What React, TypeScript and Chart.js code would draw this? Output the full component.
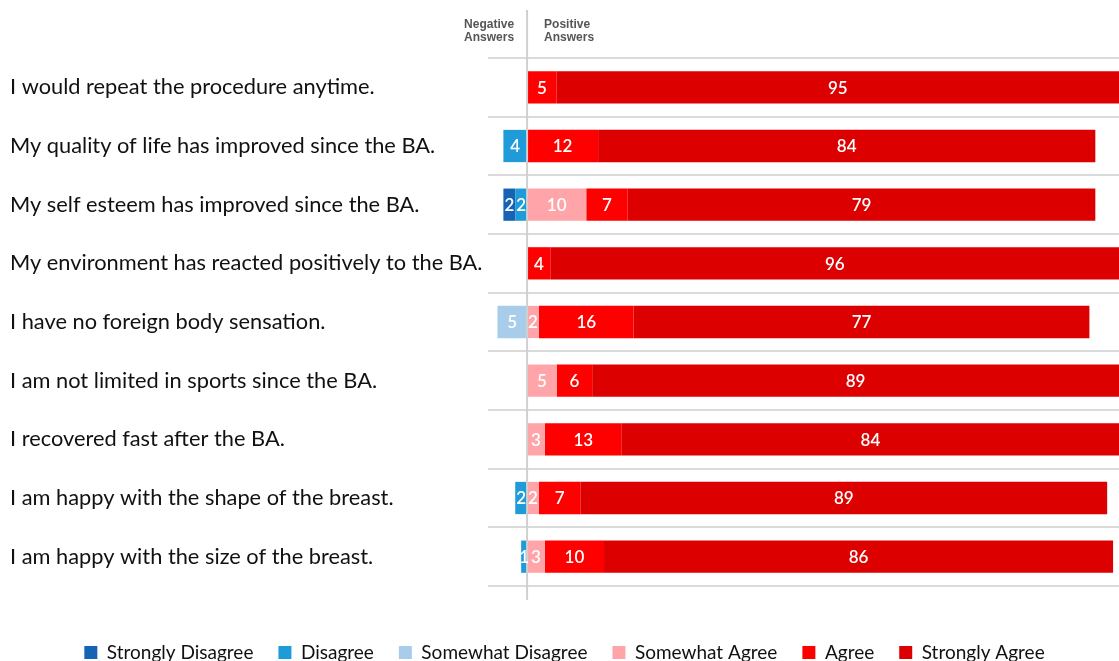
import React, { useEffect, useRef } from 'react';
import { Chart, registerables } from 'chart.js';

Chart.register(...registerables);

const statements = [
  'I would repeat the procedure anytime.',
  'My quality of life has improved since the BA.',
  'My self esteem has improved since the BA.',
  'My environment has reacted positively to the BA.',
  'I have no foreign body sensation.',
  'I am not limited in sports since the BA.',
  'I recovered fast after the BA.',
  'I am happy with the shape of the breast.',
  'I am happy with the size of the breast.',
];

const stronglyDisagree = [0, 0, 2, 0, 0, 0, 0, 0, 0];
const disagree = [0, 4, 2, 0, 0, 0, 0, 2, 1];
const somewhatDisagree = [0, 0, 0, 0, 5, 0, 0, 0, 0];
const somewhatAgree = [0, 0, 10, 0, 2, 5, 3, 2, 3];
const agree = [5, 12, 7, 4, 16, 6, 13, 7, 10];
const stronglyAgree = [95, 84, 79, 96, 77, 89, 84, 89, 86];

const seriesNames = ['Strongly Disagree', 'Disagree', 'Somewhat Disagree', 'Somewhat Agree', 'Agree', 'Strongly Agree'];
const seriesColors = ['#1663B5', '#1E9BD8', '#A8CDEB', '#FFA5A9', '#FF0000', '#DC0000'];
const headerNegative = ['Negative', 'Answers'];
const headerPositive = ['Positive', 'Answers'];
const axisMin = -6.6;
const axisMax = 100;

const LABEL_FONT = 'Lato';

export default function App() {
  const canvasRef = useRef<HTMLCanvasElement | null>(null);

  useEffect(() => {
    const canvas = canvasRef.current;
    if (!canvas) return;

    const neg = (arr: number[]) => arr.map((v) => -v);
    // negative stacks: nearest to zero first
    const datasets = [
      { label: seriesNames[2], data: neg(somewhatDisagree), backgroundColor: seriesColors[2], rank: 2 },
      { label: seriesNames[1], data: neg(disagree), backgroundColor: seriesColors[1], rank: 1 },
      { label: seriesNames[0], data: neg(stronglyDisagree), backgroundColor: seriesColors[0], rank: 0 },
      { label: seriesNames[3], data: somewhatAgree, backgroundColor: seriesColors[3], rank: 3 },
      { label: seriesNames[4], data: agree, backgroundColor: seriesColors[4], rank: 4 },
      { label: seriesNames[5], data: stronglyAgree, backgroundColor: seriesColors[5], rank: 5 },
    ];
    const ranks = datasets.map((d) => d.rank);

    const legendShift = {
      id: 'legendShift',
      afterLayout(chart: any) {
        const lg = chart.legend;
        if (lg) {
          lg.top += 32;
          lg.bottom += 32;
        }
      },
    };

    const overlay = {
      id: 'overlay',
      afterDatasetsDraw(chart: any) {
        const ctx = chart.ctx;
        const x0 = chart.scales.x.getPixelForValue(0);
        // zero line
        ctx.save();
        ctx.strokeStyle = '#d0d0d0';
        ctx.lineWidth = 2;
        ctx.beginPath();
        ctx.moveTo(x0, 10);
        ctx.lineTo(x0, 600);
        ctx.stroke();
        // header
        ctx.fillStyle = '#555555';
        ctx.font = 'bold 12px "Liberation Sans", Arial, sans-serif';
        ctx.textBaseline = 'middle';
        ctx.textAlign = 'right';
        headerNegative.forEach((t, i) => ctx.fillText(t, x0 - 13, 25 + i * 12.5));
        ctx.textAlign = 'left';
        headerPositive.forEach((t, i) => ctx.fillText(t, x0 + 17, 25 + i * 12.5));
        // value labels
        ctx.fillStyle = '#ffffff';
        ctx.font = `600 17px ${LABEL_FONT}, sans-serif`;
        ctx.textAlign = 'center';
        ctx.textBaseline = 'middle';
        chart.data.datasets.forEach((ds: any, di: number) => {
          const meta = chart.getDatasetMeta(di);
          meta.data.forEach((el: any, i: number) => {
            const v = ds.data[i];
            if (!v) return;
            const c = el.getCenterPoint();
            ctx.fillText(String(Math.abs(v)), c.x, c.y + 1);
          });
        });
        ctx.restore();
      },
    };

    const chart = new Chart(canvas, {
      type: 'bar',
      data: {
        labels: statements,
        datasets: datasets.map((d) => ({
          label: d.label,
          data: d.data,
          backgroundColor: d.backgroundColor,
          borderWidth: 0,
          barPercentage: 0.55,
          categoryPercentage: 1,
        })),
      },
      options: {
        indexAxis: 'y',
        animation: false,
        responsive: true,
        maintainAspectRatio: false,
        layout: { padding: { top: 58, left: 10, right: 0, bottom: 21 } },
        scales: {
          x: {
            stacked: true,
            min: axisMin,
            max: axisMax,
            display: false,
          },
          y: {
            stacked: true,
            afterFit: (scale: any) => {
              scale.width = 478;
            },
            grid: { display: true, color: '#dadada', lineWidth: 2, drawTicks: false, offset: true },
            border: { display: false },
            ticks: {
              crossAlign: 'far',
              color: '#111111',
              font: { family: LABEL_FONT, size: 21.8 },
              padding: 0,
            },
          },
        },
        plugins: {
          tooltip: { enabled: false },
          legend: {
            position: 'bottom',
            labels: {
              boxWidth: 13,
              boxHeight: 13,
              padding: 25,
              color: '#111111',
              font: { family: LABEL_FONT, size: 19 },
              sort: (a: any, b: any) => ranks[a.datasetIndex] - ranks[b.datasetIndex],
            },
          },
        },
      } as any,
      plugins: [overlay, legendShift],
    });

    return () => chart.destroy();
  }, []);

  return (
    <div style={{ position: 'absolute', left: 0, top: 0, width: 1119, height: 661, background: '#ffffff' }}>
      <canvas ref={canvasRef} />
    </div>
  );
}
